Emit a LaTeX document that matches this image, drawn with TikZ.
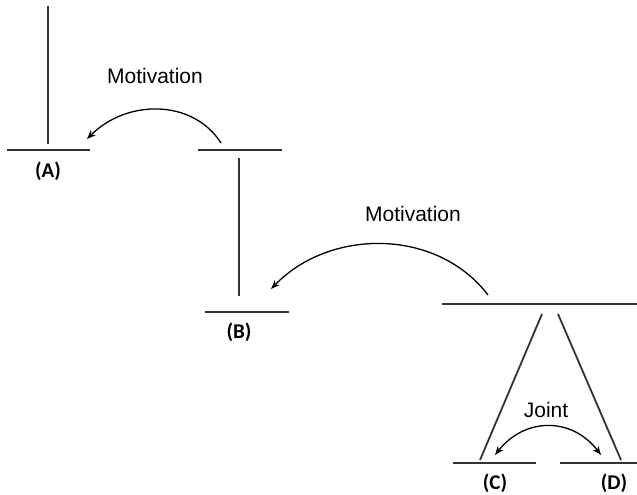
\documentclass[tikz,border=0pt]{standalone}
\usepackage{fontspec}
\setmainfont{Liberation Sans}
\newfontfamily\labfont{Carlito}
\usetikzlibrary{arrows.meta}
\begin{document}
\begin{tikzpicture}[x=1pt,y=-1pt,
  bar/.style={draw=black!80, line width=1.8pt},
  arc/.style={draw=black, line width=1.3pt, -{Stealth[length=9pt,width=7pt]}},
  darc/.style={draw=black, line width=1.3pt, {Stealth[length=9pt,width=7pt]}-{Stealth[length=9pt,width=7pt]}},
  lab/.style={font=\labfont\bfseries\fontsize{21}{23}\selectfont},
  word/.style={font=\fontsize{21}{23}\selectfont}]
\useasboundingbox (0,0) rectangle (637,495);
% A
\coordinate (a1) at (48,6); \coordinate (a2) at (48,144);
\coordinate (ah1) at (7,150); \coordinate (ah2) at (90,150);
\draw[bar] (a1) -- (a2);
\draw[bar] (ah1) -- (ah2);
\node[lab] (la) at (48,171) {(A)};
% top right bar
\coordinate (t1) at (198,150); \coordinate (t2) at (282,150);
\draw[bar] (t1) -- (t2);
% B
\coordinate (b1) at (239,158); \coordinate (b2) at (239,296);
\coordinate (bh1) at (205,312); \coordinate (bh2) at (289,312);
\draw[bar] (b1) -- (b2);
\draw[bar] (bh1) -- (bh2);
\node[lab] (lb) at (239,332) {(B)};
% motivation 1
\node[word] (m1) at (155,76) {Motivation};
\coordinate (s1) at (221,143); \coordinate (e1) at (87,139);
\draw[arc] (s1) .. controls (193,99) and (127,99) .. (e1);
% right bar
\coordinate (r1) at (442,304); \coordinate (r2) at (637,304);
\draw[bar] (r1) -- (r2);
\node[word] (m2) at (413,214) {Motivation};
\coordinate (s2) at (488,295); \coordinate (e2) at (271,289);
\draw[arc] (s2) .. controls (437,228) and (330,228) .. (e2);
% legs
\coordinate (l1) at (542,314); \coordinate (l2) at (480,460);
\coordinate (k1) at (558,314); \coordinate (k2) at (621,460);
\draw[bar] (l1) -- (l2);
\draw[bar] (k1) -- (k2);
% C, D bars
\coordinate (c1) at (453,463); \coordinate (c2) at (536,463);
\coordinate (d1) at (560,463); \coordinate (d2) at (637,463);
\draw[bar] (c1) -- (c2);
\draw[bar] (d1) -- (d2);
\node[lab] (lc) at (495,483) {(C)};
\node[lab] (ld) at (614,483) {(D)};
% joint
\node[word] (j) at (546,410) {Joint};
\coordinate (js) at (495,455); \coordinate (je) at (601,455);
\draw[darc] (js) .. controls (525,417) and (572,417) .. (je);
\end{tikzpicture}
\end{document}
